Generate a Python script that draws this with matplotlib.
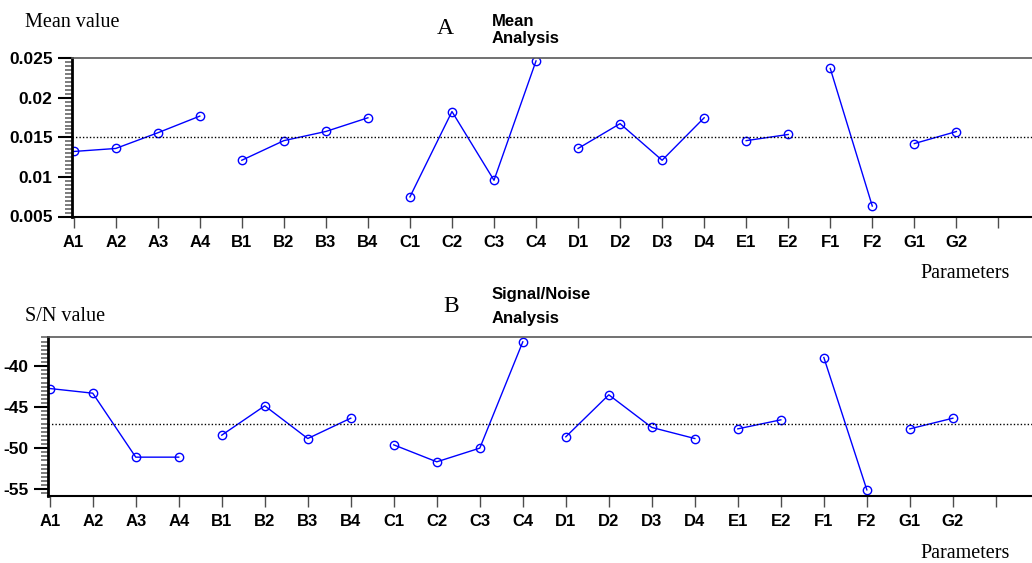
import numpy as np
import matplotlib
matplotlib.use("Agg")
import matplotlib.pyplot as plt
from matplotlib.ticker import MultipleLocator

labels = ["A1", "A2", "A3", "A4", "B1", "B2", "B3", "B4",
          "C1", "C2", "C3", "C4", "D1", "D2", "D3", "D4",
          "E1", "E2", "F1", "F2", "G1", "G2"]
group_sizes = [4, 4, 4, 4, 2, 2, 2]

mean_values = [0.01322, 0.01360, 0.01558, 0.01769,
               0.01211, 0.01459, 0.01575, 0.01748,
               0.00748, 0.01827, 0.00958, 0.02467,
               0.01360, 0.01674, 0.01211, 0.01748,
               0.01459, 0.01537,
               0.02372, 0.00632,
               0.01422, 0.01574]

sn_values = [-42.73, -43.30, -51.10, -51.10,
             -48.42, -44.84, -48.83, -46.35,
             -49.60, -51.67, -50.00, -37.04,
             -48.62, -43.50, -47.48, -48.83,
             -47.65, -46.55,
             -38.95, -55.09,
             -47.65, -46.35]

mean_ticks = [0.005, 0.01, 0.015, 0.02, 0.025]
mean_ticklabels = ["0.005", "0.01", "0.015", "0.02", "0.025"]
sn_ticks = [-55, -50, -45, -40]

W, H = 1032, 563
fig = plt.figure(figsize=(W / 100, H / 100), dpi=100)

sans = "Liberation Sans"
serif = "Liberation Serif"


def panel(rect, values, ylim, yticks, yticklabels, minor, xlim):
    ax = fig.add_axes(rect)
    x = np.arange(len(values))
    start = 0
    for n in group_sizes:
        idx = slice(start, start + n)
        ax.plot(x[idx], values[start:start + n], color="blue", lw=1,
                marker="o", ms=6, mfc="none", mec="blue", mew=1)
        start += n
    ax.axhline(np.mean(values), color="black", ls=(0, (1, 1.5)), lw=1)
    ax.set_xlim(*xlim)
    ax.set_ylim(*ylim)
    ax.set_xticks(np.arange(len(values) + 1))
    ax.set_xticklabels(labels + [""], fontfamily=sans, fontweight="bold", fontsize=12)
    ax.set_yticks(yticks)
    ax.set_yticklabels(yticklabels, fontfamily=sans, fontweight="bold", fontsize=12.5)
    ax.yaxis.set_minor_locator(MultipleLocator(minor))
    ax.tick_params(axis="x", length=8, width=1, color="0.3", pad=5)
    ax.tick_params(axis="y", which="major", length=10, width=1.5, color="black", pad=4)
    ax.tick_params(axis="y", which="minor", length=5, width=1.2, color="0.4")
    ax.spines["right"].set_visible(False)
    ax.spines["top"].set_color("0.35")
    ax.spines["top"].set_linewidth(1.2)
    ax.spines["left"].set_linewidth(2)
    ax.spines["bottom"].set_linewidth(1.5)
    return ax


ax1 = panel([72 / W, 1 - 216.5 / H, 1 - 72 / W, (216.5 - 58.3) / H],
            mean_values, (0.005, 0.025), mean_ticks, mean_ticklabels, 0.0005,
            (-0.04, 22.8))
ax2 = panel([48.3 / W, 1 - 495.7 / H, 1 - 48.3 / W, (495.7 - 337) / H],
            sn_values, (-55.8, -36.45), sn_ticks, [str(t) for t in sn_ticks], 0.5,
            (-0.033, 22.84))

# panel texts
fig.text(25 / W, 1 - 22.7 / H, "Mean value", fontfamily=serif, fontsize=14.5, va="center")
fig.text(445 / W, 1 - 28 / H, "A", fontfamily=serif, fontsize=17, ha="center", va="center")
fig.text(492 / W, 1 - 21 / H, "Mean", fontfamily=sans, fontweight="bold", fontsize=12, va="center")
fig.text(492 / W, 1 - 39 / H, "Analysis", fontfamily=sans, fontweight="bold", fontsize=12, va="center")
fig.text(920 / W, 1 - 273 / H, "Parameters", fontfamily=serif, fontsize=14.5, va="center")

fig.text(25 / W, 1 - 316.7 / H, "S/N value", fontfamily=serif, fontsize=14.5, va="center")
fig.text(451 / W, 1 - 306.7 / H, "B", fontfamily=serif, fontsize=17, ha="center", va="center")
fig.text(492 / W, 1 - 294 / H, "Signal/Noise", fontfamily=sans, fontweight="bold", fontsize=12, va="center")
fig.text(492 / W, 1 - 319 / H, "Analysis", fontfamily=sans, fontweight="bold", fontsize=12, va="center")
fig.text(920 / W, 1 - 553 / H, "Parameters", fontfamily=serif, fontsize=14.5, va="center")

fig.savefig("out.png", dpi=100)
